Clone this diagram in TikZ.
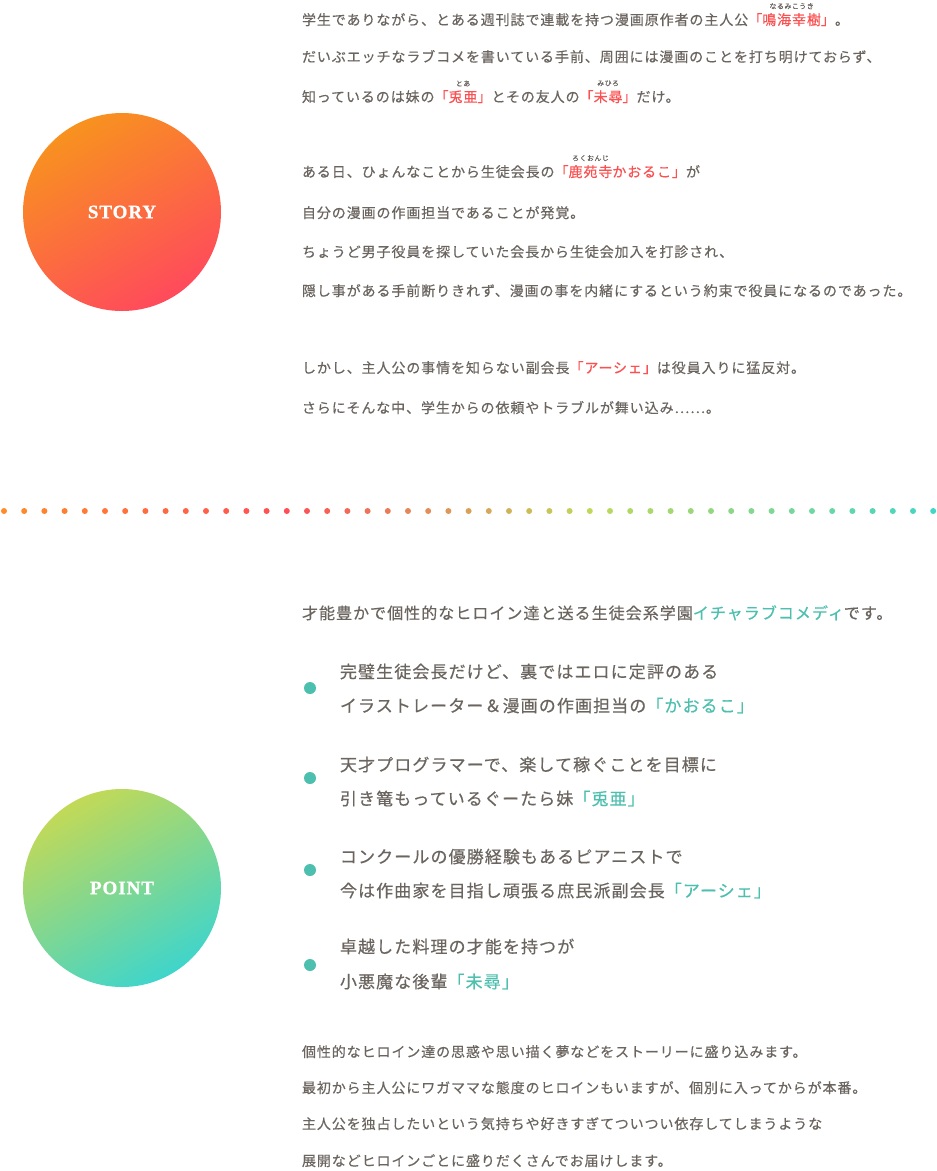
\documentclass[tikz,border=0pt]{standalone}
\usepackage{fontspec}
\usepackage{tikz}
\usetikzlibrary{positioning}
\setmainfont{Liberation Serif}
\newfontfamily\jp[LetterSpace=6.5,FakeBold=0.5]{Noto Sans CJK JP}
\newfontfamily\ttl[LetterSpace=5,FakeBold=1]{Liberation Serif}
\definecolor{txtgray}{HTML}{6B6560}
\definecolor{hired}{HTML}{FA5252}
\definecolor{hiteal}{HTML}{4DBFAE}
\definecolor{storyA}{HTML}{F8921F}
\definecolor{storyB}{HTML}{FF4A5C}
\definecolor{pointA}{HTML}{C2D957}
\definecolor{pointB}{HTML}{3FD5CB}
\definecolor{dotA}{HTML}{FF8C28}
\definecolor{dotB}{HTML}{FF4E56}
\definecolor{dotC}{HTML}{BFD85A}
\definecolor{dotD}{HTML}{42D6C8}
\def\rd#1{{\color{hired}#1}}
\def\tl#1{{\color{hiteal}#1}}

\begin{document}
\begin{tikzpicture}[x=1pt,y=-1pt,node distance=0pt]
			\tikzstyle{every node}=[inner sep=0pt,outer sep=0pt]
			\tikzstyle{txt}=[anchor=base west,text=txtgray,font=\jp\fontsize{14}{16}\selectfont]
			\tikzstyle{lead}=[txt,font=\jp\fontsize{16}{18}\selectfont]
			\tikzstyle{item}=[txt,font=\jp\fontsize{17}{19}\selectfont]
			\tikzstyle{hero}=[txt,text=hired]
			\tikzstyle{ruby}=[text=txtgray,font=\jp\fontsize{7}{8}\selectfont]
			\tikzstyle{badge}=[circle,minimum size=198pt,text=white,
				font=\ttl\bfseries\fontsize{19}{21}\selectfont]
			\tikzstyle{bullet}=[circle,fill=hiteal,minimum size=12pt]
			
			\useasboundingbox (0,0) rectangle (937,1171);
			
			% STORY
			\node[badge,top color=storyA,bottom color=storyB,shading angle=30] (story) at (122,212) {STORY};
			
			\node[txt] (s1) at (302,25) {学生でありながら、とある週刊誌で連載を持つ漫画原作者の主人公\rd{「}};
			\node[hero,base right=of s1] (s1n) {鳴海幸樹};
			\node[txt,base right=of s1n] (s1e) {\rd{」}。};
			\node[ruby,above=4pt of s1n] (r1) {なるみこうき};
			
			\node[txt] (s2) at (302,62) {だいぶエッチなラブコメを書いている手前、周囲には漫画のことを打ち明けておらず、};
			
			\node[txt] (s3) at (302,102) {知っているのは妹の\rd{「}};
			\node[hero,base right=of s3] (s3n) {兎亜};
			\node[txt,base right=of s3n] (s3m) {\rd{」}とその友人の\rd{「}};
			\node[hero,base right=of s3m] (s3k) {未尋};
			\node[txt,base right=of s3k] (s3e) {\rd{」}だけ。};
			\node[ruby,above=4pt of s3n] (r2) {とあ};
			\node[ruby,above=4pt of s3k] (r3) {みひろ};
			
			\node[txt] (s4) at (302,177) {ある日、ひょんなことから生徒会長の\rd{「}};
			\node[hero,base right=of s4] (s4n) {鹿苑寺};
			\node[hero,base right=of s4n] (s4m) {かおるこ」};
			\node[txt,base right=of s4m] (s4e) {が};
			\node[ruby,above=4pt of s4n] (r4) {ろくおんじ};
			
			\node[txt] (s5) at (302,218) {自分の漫画の作画担当であることが発覚。};
			\node[txt] (s6) at (302,257) {ちょうど男子役員を探していた会長から生徒会加入を打診され、};
			\node[txt] (s7) at (302,296) {隠し事がある手前断りきれず、漫画の事を内緒にするという約束で役員になるのであった。};
			\node[txt] (s8) at (302,373) {しかし、主人公の事情を知らない副会長\rd{「アーシェ」}は役員入りに猛反対。};
			\node[txt] (s9) at (302,413) {さらにそんな中、学生からの依頼やトラブルが舞い込み……。};
			
			% dotted divider
			\foreach \i in {0,...,46}{
				\ifnum\i<14
					\pgfmathtruncatemacro\p{\i*100/14}\colorlet{dotc}{dotB!\p!dotA}
				\else\ifnum\i<29
					\pgfmathtruncatemacro\p{(\i-14)*100/15}\colorlet{dotc}{dotC!\p!dotB}
				\else
					\pgfmathtruncatemacro\p{(\i-29)*100/17}\colorlet{dotc}{dotD!\p!dotC}
				\fi\fi
				\fill[dotc] (4+20.2*\i,511) circle (3pt);
			}
			
			% POINT
			\node[badge,top color=pointA,bottom color=pointB,shading angle=30] (point) at (122,888) {POINT};
			
			\node[lead] (p0) at (302,619) {才能豊かで個性的なヒロイン達と送る生徒会系学園\tl{イチャラブコメディ}です。};
			
			\node[bullet] (b1) at (310,688) {};
			\node[item] (b1a) at (340,678) {完璧生徒会長だけど、裏ではエロに定評のある};
			\node[item] (b1b) at (340,712) {イラストレーター＆漫画の作画担当の\tl{「かおるこ」}};
			
			\node[bullet] (b2) at (310,778) {};
			\node[item] (b2a) at (340,771) {天才プログラマーで、楽して稼ぐことを目標に};
			\node[item] (b2b) at (340,805) {引き篭もっているぐーたら妹\tl{「兎亜」}};
			
			\node[bullet] (b3) at (310,870) {};
			\node[item] (b3a) at (340,863) {コンクールの優勝経験もあるピアニストで};
			\node[item] (b3b) at (340,897) {今は作曲家を目指し頑張る庶民派副会長\tl{「アーシェ」}};
			
			\node[bullet] (b4) at (310,965) {};
			\node[item] (b4a) at (340,953) {卓越した料理の才能を持つが};
			\node[item] (b4b) at (340,988) {小悪魔な後輩\tl{「未尋」}};
			
			\node[txt] (e1) at (302,1057) {個性的なヒロイン達の思惑や思い描く夢などをストーリーに盛り込みます。};
			\node[txt] (e2) at (302,1093) {最初から主人公にワガママな態度のヒロインもいますが、個別に入ってからが本番。};
			\node[txt] (e3) at (302,1129) {主人公を独占したいという気持ちや好きすぎてついつい依存してしまうような};
			\node[txt] (e4) at (302,1166) {展開などヒロインごとに盛りだくさんでお届けします。};
\end{tikzpicture}
\end{document}
